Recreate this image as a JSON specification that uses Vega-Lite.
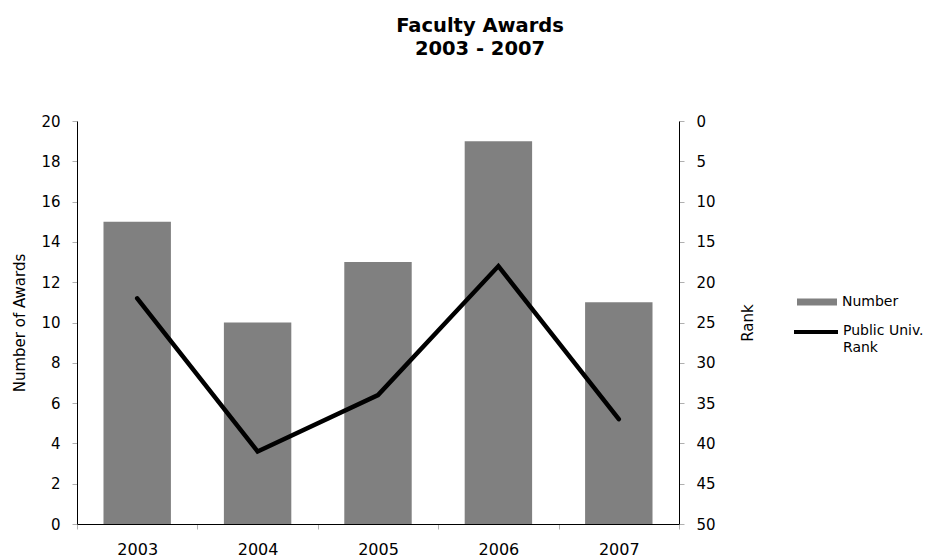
{
  "$schema": "https://vega.github.io/schema/vega-lite/v6.json",
  "width": 602,
  "height": 403,
  "autosize": {"type": "none"},
  "padding": {"left": 77, "top": 121, "right": 249, "bottom": 33},
  "background": "white",
  "title": {
    "text": ["Faculty Awards", "2003 - 2007"],
    "font": "DejaVu Sans",
    "fontSize": 19.5,
    "fontWeight": "bold",
    "color": "black",
    "anchor": "middle",
    "dx": 102,
    "offset": 55,
    "lineHeight": 23
  },
  "config": {
    "view": {"stroke": null},
    "font": "DejaVu Sans",
    "axis": {
      "labelFont": "DejaVu Sans",
      "titleFont": "DejaVu Sans",
      "labelColor": "black",
      "titleColor": "black",
      "domainColor": "black",
      "tickColor": "#b0b0b0",
      "grid": false,
      "titleFontWeight": "normal"
    },
    "legend": {
      "labelFont": "DejaVu Sans",
      "labelColor": "black",
      "labelFontSize": 14
    }
  },
  "data": {
    "values": [
      {"year": "2003", "awards": 15, "rank": 22},
      {"year": "2004", "awards": 10, "rank": 41},
      {"year": "2005", "awards": 13, "rank": 34},
      {"year": "2006", "awards": 19, "rank": 18},
      {"year": "2007", "awards": 11, "rank": 37}
    ]
  },
  "encoding": {
    "x": {
      "field": "year",
      "type": "ordinal",
      "scale": {"paddingInner": 0, "paddingOuter": 0},
      "axis": {
        "title": null,
        "labelAngle": 0,
        "labelFontSize": 16,
        "labelPadding": 12,
        "tickBand": "extent",
        "tickSize": 5
      }
    }
  },
  "layer": [
    {
      "mark": {"type": "bar", "color": "#808080", "width": {"band": 0.56}},
      "encoding": {
        "y": {
          "field": "awards",
          "type": "quantitative",
          "scale": {"domain": [0, 20]},
          "axis": {
            "title": "Number of Awards",
            "values": [0, 2, 4, 6, 8, 10, 12, 14, 16, 18, 20],
            "labelFontSize": 15,
            "titleFontSize": 15,
            "labelPadding": 12,
            "titlePadding": 13,
            "tickSize": 5
          }
        },
        "fill": {
          "datum": "Number",
          "scale": {"range": ["#808080"]},
          "legend": {
            "title": null,
            "orient": "none",
            "legendX": 720,
            "legendY": 161,
            "symbolType": "M-1,-0.17H1V0.17H-1Z",
            "symbolSize": 1600,
            "symbolStrokeWidth": 0,
            "labelOffset": 5
          }
        }
      }
    },
    {
      "mark": {"type": "line", "color": "black", "strokeWidth": 4.5, "strokeCap": "round"},
      "encoding": {
        "y": {
          "field": "rank",
          "type": "quantitative",
          "scale": {"domain": [0, 50], "reverse": true},
          "axis": {
            "orient": "right",
            "title": "Rank",
            "titleAngle": 270,
            "values": [0, 5, 10, 15, 20, 25, 30, 35, 40, 45, 50],
            "labelFontSize": 15,
            "titleFontSize": 15,
            "labelPadding": 12,
            "titlePadding": 40,
            "tickSize": 5
          }
        },
        "stroke": {
          "datum": "Public Univ. Rank",
          "scale": {"range": ["black"]},
          "legend": {
            "title": null,
            "orient": "none",
            "legendX": 715,
            "legendY": 187,
            "symbolType": "stroke",
            "symbolSize": 1936,
            "symbolStrokeWidth": 4,
            "labelOffset": 3,
            "labelExpr": "['Public Univ.', 'Rank']",
            "labelBaseline": "top",
            "encode": {"labels": {"update": {"dy": {"value": -8}, "lineHeight": {"value": 17}}}}
          }
        }
      }
    }
  ],
  "resolve": {"scale": {"y": "independent"}}
}
